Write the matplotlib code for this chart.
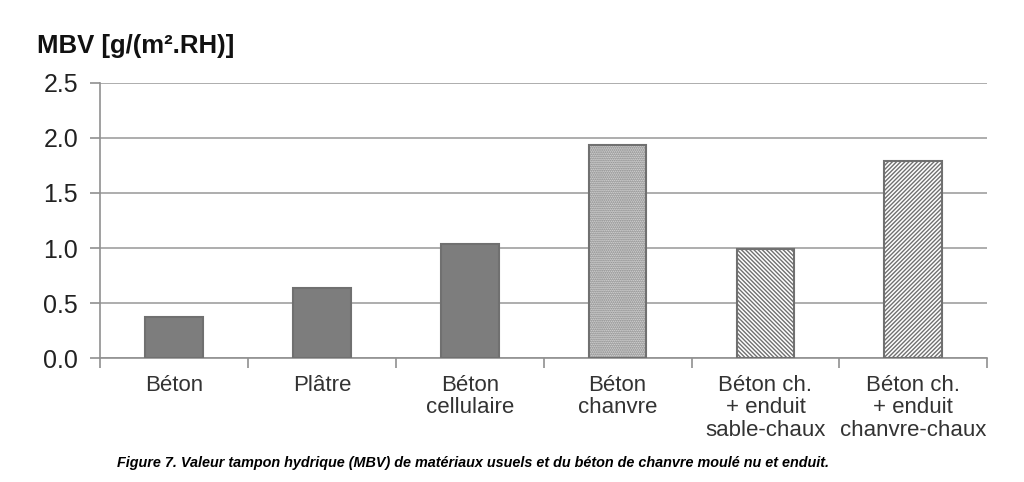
import numpy as np
import matplotlib.pyplot as plt

plt.rcParams['font.family'] = ['Liberation Sans', 'DejaVu Sans']

# Données
categories = ["Béton", "Plâtre", "Béton\ncellulaire", "Béton\nchanvre",
              "Béton ch.\n+ enduit\nsable-chaux", "Béton ch.\n+ enduit\nchanvre-chaux"]
mbv = [0.37, 0.64, 1.04, 1.94, 0.99, 1.79]
yticks = [0.0, 0.5, 1.0, 1.5, 2.0, 2.5]

fill_colors = ['#7d7d7d', '#7d7d7d', '#7d7d7d', '#e8e8e8', '#ffffff', '#ffffff']
hatches = [None, None, None, '........', '\\\\\\\\\\\\\\\\', '////////']

plt.rcParams['hatch.color'] = '#707070'
plt.rcParams['hatch.linewidth'] = 1.0

fig = plt.figure(figsize=(10.24, 4.82), dpi=100)
ax = fig.add_axes([0.098, 0.257, 0.866, 0.571])

x = np.arange(len(categories))
for i in range(len(categories)):
    ax.bar(x[i], mbv[i], width=0.39, color=fill_colors[i], edgecolor='#707070',
           linewidth=1.5, hatch=hatches[i], zorder=3)

ax.set_xlim(-0.5, len(categories) - 0.5)
ax.set_ylim(0, 2.5)
ax.set_yticks(yticks)
ax.set_yticklabels([f"{v:.1f}" for v in yticks], fontsize=18, color='#222222')
ax.yaxis.grid(True, color='#a0a0a0', linewidth=1.2, zorder=0)
ax.tick_params(axis='y', length=7, color='#909090', width=1.2, pad=9)

ax.set_xticks(x)
ax.set_xticklabels(categories, fontsize=16, linespacing=1.1, va='top', color='#333333')
ax.tick_params(axis='x', length=0, pad=12)
ax.set_xticks(np.arange(-0.5, len(categories)), minor=True)
ax.tick_params(axis='x', which='minor', length=7, color='#909090', width=1.2)

for s in ['top', 'right']:
    ax.spines[s].set_visible(False)
ax.spines['left'].set_color('#909090')
ax.spines['left'].set_linewidth(1.2)
ax.spines['bottom'].set_color('#909090')
ax.spines['bottom'].set_linewidth(1.2)

fig.text(0.036, 0.905, "MBV [g/(m².RH)]", fontsize=18.5, fontweight='bold', va='center',
         color='#111111')
fig.text(0.462, 0.04, "Figure 7. Valeur tampon hydrique (MBV) de matériaux usuels et du béton de chanvre moulé nu et enduit.",
         fontsize=10.4, fontweight='bold', fontstyle='italic', ha='center', va='center')

fig.savefig('out.png', dpi=100)
